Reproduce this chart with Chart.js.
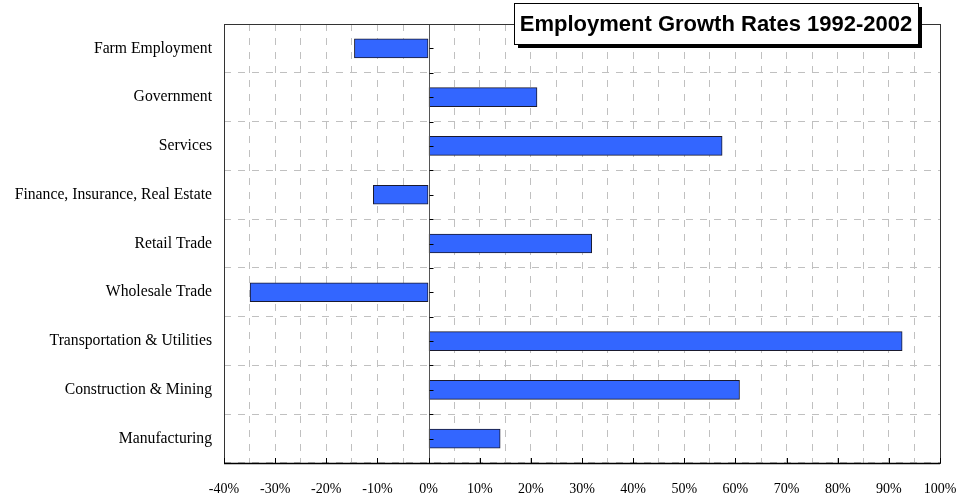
<!DOCTYPE html>
<html>
<head>
<meta charset="utf-8">
<script src="https://cdn.jsdelivr.net/npm/chart.js@4/dist/chart.umd.min.js"></script>
<style>
html,body{margin:0;padding:0;background:#fff;}
#wrap{width:963px;height:498px;position:relative;}
</style>
</head>
<body>
<div id="wrap"><canvas id="c" width="963" height="498"></canvas></div>
<script>
const categories = [
  "Farm Employment",
  "Government",
  "Services",
  "Finance, Insurance, Real Estate",
  "Retail Trade",
  "Wholesale Trade",
  "Transportation & Utilities",
  "Construction & Mining",
  "Manufacturing"
];
const growthRates = [-14.5, 21.2, 57.4, -10.8, 31.9, -34.9, 92.6, 60.8, 14.0];
const xTickValues = [-40, -30, -20, -10, 0, 10, 20, 30, 40, 50, 60, 70, 80, 90, 100];
const chartTitle = "Employment Growth Rates 1992-2002";

const frame = {
  id: 'frame',
  afterDatasetsDraw(chart) {
    const ctx = chart.ctx, a = chart.chartArea;
    const xs = chart.scales.x, ys = chart.scales.y;
    ctx.save();
    const x0 = Math.round(xs.getPixelForValue(0)) + 0.5;
    ctx.strokeStyle = '#555';
    ctx.lineWidth = 1;
    ctx.beginPath(); ctx.moveTo(x0, a.top); ctx.lineTo(x0, a.bottom); ctx.stroke();
    ctx.strokeStyle = '#000';
    ctx.beginPath();
    for (let i = 0; i < categories.length; i++) {
      const yc = Math.round(ys.getPixelForValue(i)) + 0.5;
      ctx.moveTo(x0, yc); ctx.lineTo(x0 + 4, yc);
      const yb = Math.round(ys.getPixelForValue(i - 0.5)) + 0.5;
      if (i > 0) { ctx.moveTo(x0, yb); ctx.lineTo(x0 + 4, yb); }
    }
    ctx.stroke();
    ctx.strokeStyle = '#333';
    ctx.strokeRect(Math.round(a.left) + 0.5, Math.round(a.top) + 0.5, Math.round(a.right - a.left), Math.round(a.bottom - a.top));
    ctx.strokeStyle = '#000';
    ctx.beginPath();
    xTickValues.forEach(v => {
      const x = Math.round(xs.getPixelForValue(v)) + 0.5;
      ctx.moveTo(x, a.bottom); ctx.lineTo(x, a.bottom - 5);
    });
    ctx.stroke();
    ctx.lineWidth = 1.5;
    ctx.beginPath();
    ctx.moveTo(a.left, a.bottom + 0.5); ctx.lineTo(a.right, a.bottom + 0.5);
    ctx.stroke();
    const bx = 514, by = 3, bw = 404, bh = 41;
    ctx.fillStyle = '#000';
    ctx.fillRect(bx + 4, by + 4, bw, bh);
    ctx.fillStyle = '#fff';
    ctx.fillRect(bx, by, bw, bh);
    ctx.lineWidth = 1;
    ctx.strokeStyle = '#000';
    ctx.strokeRect(bx + 0.5, by + 0.5, bw, bh);
    ctx.fillStyle = '#000';
    ctx.font = 'bold 22px "Liberation Sans", Arial, sans-serif';
    ctx.textAlign = 'center';
    ctx.textBaseline = 'middle';
    ctx.fillText(chartTitle, bx + bw / 2, by + bh / 2 + 1);
    ctx.restore();
  }
};

new Chart(document.getElementById('c'), {
  type: 'bar',
  data: {
    labels: categories,
    datasets: [{
      data: growthRates,
      backgroundColor: '#3366FF',
      borderColor: '#1a1a2e',
      borderWidth: 1,
      borderSkipped: false,
      barThickness: 19
    }]
  },
  options: {
    indexAxis: 'y',
    responsive: false,
    animation: false,
    devicePixelRatio: 1,
    layout: { padding: { top: 24, right: 23, left: 0, bottom: 0 } },
    plugins: { legend: { display: false }, tooltip: { enabled: false }, title: { display: false } },
    scales: {
      x: {
        min: -40, max: 100,
        afterBuildTicks(scale) {
          const t = [];
          for (let v = -40; v <= 100; v += 5) t.push({ value: v });
          scale.ticks = t;
        },
        afterFit(scale) { scale.height = 35; scale.paddingLeft = 0; scale.paddingRight = 0; },
        ticks: {
          autoSkip: false,
          maxRotation: 0,
          padding: 18,
          color: '#000',
          font: { family: '"Liberation Serif", "Times New Roman", serif', size: 14 },
          callback: (v) => (xTickValues.includes(v) ? v + '%' : '')
        },
        grid: {
          color: (c) => (c.tick && c.tick.value === 0 ? 'rgba(0,0,0,0)' : '#c0c0c0'),
          drawTicks: false,
          lineWidth: 1
        },
        border: { display: false, dash: [7, 7] }
      },
      y: {
        afterFit(scale) { scale.width = 224; scale.paddingTop = 0; scale.paddingBottom = 0; },
        ticks: {
          padding: 12,
          color: '#000',
          font: { family: '"Liberation Serif", "Times New Roman", serif', size: 15.7 }
        },
        grid: {
          color: '#c0c0c0',
          drawTicks: false,
          offset: true,
          lineWidth: 1
        },
        border: { display: false, dash: [7, 7] }
      }
    }
  },
  plugins: [frame]
});
</script>
</body>
</html>
